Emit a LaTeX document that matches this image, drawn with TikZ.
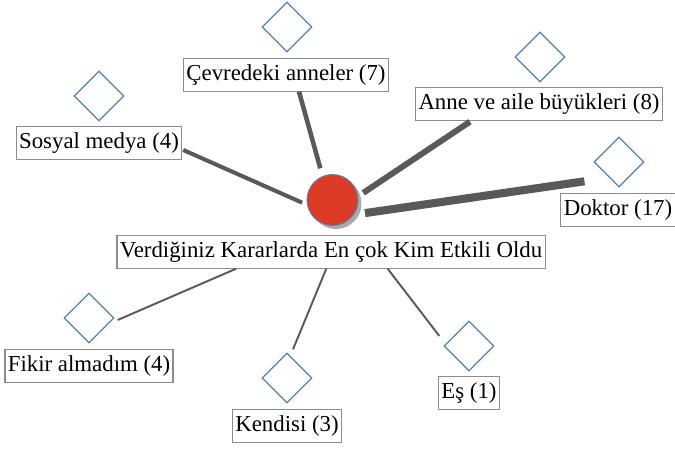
\documentclass[tikz,border=0pt]{standalone}
\usepackage{fontspec}
\setmainfont{Liberation Serif}
\usepackage{tikz}
\usetikzlibrary{shapes.geometric,calc,shadows}
\definecolor{koyugri}{HTML}{595959}
\definecolor{cerceve}{HTML}{8C8C8C}
\definecolor{elmasmavi}{HTML}{4F81BD}
\definecolor{merkezkirmizi}{HTML}{DE3B26}

\begin{document}
\begin{tikzpicture}[x=0.02cm,y=0.02cm,
			etiket/.style={draw=cerceve,line width=0.6pt,fill=white,inner xsep=1.6pt,inner ysep=2.9pt,text height=9.6pt,text depth=3pt,font=\fontsize{13}{15}\selectfont},
			elmas/.style={diamond,draw=elmasmavi,line width=0.75pt,minimum width=1cm,minimum height=1cm,inner sep=0pt,aspect=1},
			bag/.style={draw=koyugri,line cap=butt}
			]
			\useasboundingbox (0,0) rectangle (675,-449);
			% merkez ve baslik
			\node[circle,fill=merkezkirmizi,draw=elmasmavi,line width=0.5pt,minimum size=1.02cm,inner sep=0pt,
				drop shadow={shadow xshift=2pt,shadow yshift=-2pt,fill=black!55,opacity=0.6}] (merkez) at (332.5,-200) {};
			\node[etiket] (baslik) at (331,-252) {Verdiğiniz Kararlarda En çok Kim Etkili Oldu};
			% ust taraf
			\node[elmas] (cevred) at (287,-27) {};
			\node[etiket] (cevre) at (286,-75) {Çevredeki anneler (7)};
			\node[elmas] (sosyald) at (99,-96) {};
			\node[etiket] (sosyal) at (99,-143) {Sosyal medya (4)};
			\node[elmas] (anned) at (540,-57) {};
			\node[etiket] (anne) at (539,-104) {Anne ve aile büyükleri (8)};
			\node[elmas] (doktord) at (619,-162) {};
			\node[etiket] (doktor) at (618,-210) {Doktor (17)};
			% alt taraf
			\node[elmas] (fikird) at (89,-318) {};
			\node[etiket] (fikir) at (89,-366) {Fikir almadım (4)};
			\node[elmas] (kendid) at (287,-378) {};
			\node[etiket] (kendi) at (287,-426) {Kendisi (3)};
			\node[elmas] (esd) at (469,-346) {};
			\node[etiket] (es) at (469,-393) {Eş (1)};
			% kalin baglantilar (merkeze)
			\draw[bag,line width=2.3pt] ($(sosyal.east)+(1,-7)$) -- ($(merkez)+(185:30.5)$);
			\draw[bag,line width=2.6pt] ($(cevre.south)+(13,0)$) -- ($(merkez)+(111:34)$);
			\draw[bag,line width=3.4pt] ($(anne.south)+(-69,-1)$) -- ($(merkez)+(13:31.5)$);
			\draw[bag,line width=4.6pt] ($(doktor.north west)+(24,12)$) -- ($(merkez)+(-22:35)$);
			% ince baglantilar (basliga)
			\draw[bag,line width=1.1pt] ($(fikird.east)+(3,-2)$) -- ($(baslik.south west)!0.279!(baslik.south east)$);
			\draw[bag,line width=1.1pt] ($(kendid.north)+(6,3)$) -- ($(baslik.south west)!0.489!(baslik.south east)$);
			\draw[bag,line width=1.1pt] ($(esd.west)+(-4,10)$) -- ($(baslik.south west)!0.632!(baslik.south east)$);
		\end{tikzpicture}
\end{document}
